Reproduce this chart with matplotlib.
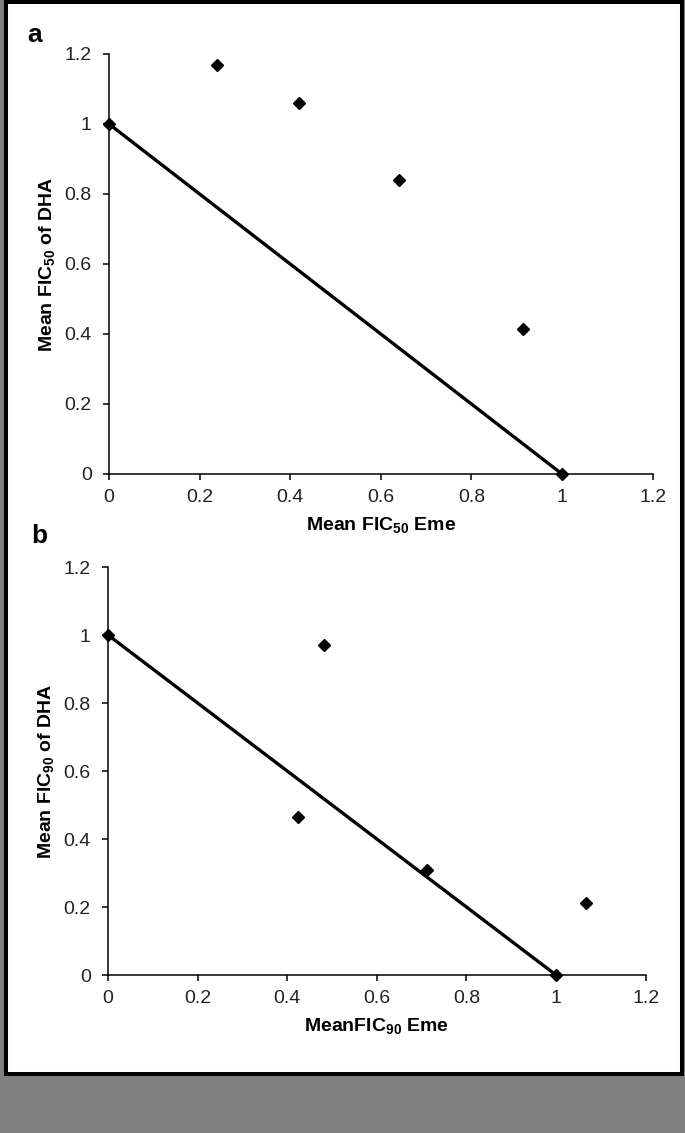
import matplotlib
matplotlib.use("Agg")
import matplotlib.pyplot as plt
from matplotlib.patches import Rectangle

plt.rcParams['font.family'] = ['Liberation Sans', 'DejaVu Sans']
plt.rcParams['mathtext.default'] = 'regular'

# Data
a_eme = [0, 0.238, 0.42, 0.64, 0.913, 1]
a_dha = [1, 1.169, 1.061, 0.839, 0.414, 0]
b_eme = [0, 0.483, 0.423, 0.712, 1.066, 1]
b_dha = [1, 0.971, 0.464, 0.31, 0.2125, 0]
line_x = [0, 1]
line_y = [1, 0]
ticks = [0, 0.2, 0.4, 0.6, 0.8, 1.0, 1.2]
tick_labels = ['0', '0.2', '0.4', '0.6', '0.8', '1', '1.2']

W, H = 685, 1133
fig = plt.figure(figsize=(W / 100, H / 100), dpi=100)
fig.patch.set_facecolor('#808080')

# white panel with black border
border = Rectangle((5.5 / W, 1 - 1074 / H), (682 - 5.5) / W, (1074 - 2) / H,
                   transform=fig.transFigure, facecolor='white', edgecolor='black',
                   linewidth=2.9, zorder=-10)
fig.add_artist(border)


def make_axes(rect, xs, ys, xlabel, ylabel):
    ax = fig.add_axes(rect)
    ax.patch.set_alpha(0)
    ax.plot(line_x, line_y, color='black', linewidth=2.4, solid_capstyle='butt', zorder=2)
    ax.plot(xs, ys, linestyle='none', marker='D', markersize=6.3, color='black',
            clip_on=False, zorder=3)
    ax.set_xlim(0, 1.2)
    ax.set_ylim(0, 1.2)
    ax.set_xticks(ticks)
    ax.set_xticklabels(tick_labels)
    ax.set_yticks(ticks)
    ax.set_yticklabels(tick_labels)
    for s in ['top', 'right']:
        ax.spines[s].set_visible(False)
    for s in ['left', 'bottom']:
        ax.spines[s].set_linewidth(1.1)
        ax.spines[s].set_color('black')
    ax.tick_params(axis='both', direction='out', length=4.5, width=1.1, labelsize=14,
                   colors='black', labelcolor='#222222')
    ax.tick_params(axis='x', pad=6)
    ax.tick_params(axis='y', pad=8)
    ax.set_xlabel(xlabel, fontsize=14, fontweight='bold', labelpad=7)
    ax.set_ylabel(ylabel, fontsize=14, fontweight='bold', labelpad=5)
    return ax


ax1 = make_axes([109 / W, 1 - 474 / H, (652.6 - 109) / W, (474 - 54) / H],
                a_eme, a_dha, 'Mean FIC$_{50}$ Eme', 'Mean FIC$_{50}$ of DHA')
ax2 = make_axes([108 / W, 1 - 975 / H, (645.6 - 108) / W, (975 - 567) / H],
                b_eme, b_dha, 'MeanFIC$_{90}$ Eme', 'Mean FIC$_{90}$ of DHA')

fig.text(27 / W, 1 - 42 / H, 'a', fontsize=19, fontweight='bold', va='baseline', ha='left')
fig.text(31 / W, 1 - 543 / H, 'b', fontsize=19, fontweight='bold', va='baseline', ha='left')

fig.savefig('out.png', dpi=100, facecolor=fig.get_facecolor())
